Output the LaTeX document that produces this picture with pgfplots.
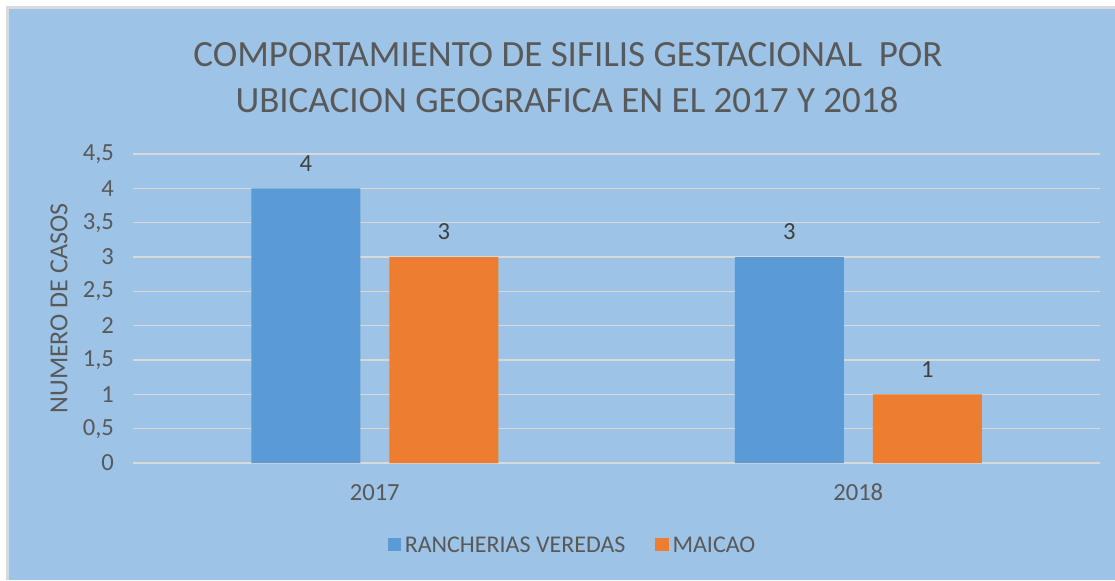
\documentclass[border=0pt]{standalone}
\usepackage{pgfplots}
\pgfplotsset{compat=1.18}
\usepackage{fontspec}
\setmainfont{Carlito}
\definecolor{bg}{HTML}{9DC3E6}
\definecolor{bblue}{HTML}{5B9BD5}
\definecolor{borange}{HTML}{ED7D31}
\definecolor{txt}{HTML}{595959}
\definecolor{lbl}{HTML}{404040}
\definecolor{gridc}{HTML}{D9D9D9}
\begin{document}
\begin{tikzpicture}[x=0.5pt,y=0.5pt]
\useasboundingbox (0,0) rectangle (1115,580);
\fill[white] (0,0) rectangle (1115,580);
\fill[bg] (7,0) rectangle (1115,572);
\draw[gridc,line width=1.5pt] (7,0) -- (7,572) -- (1115,572);
\node[text=txt,font=\fontsize{18.5}{22}\selectfont] at (568,525) {COMPORTAMIENTO DE SIFILIS GESTACIONAL\ \ POR};
\node[text=txt,font=\fontsize{18.5}{22}\selectfont] at (567,480) {UBICACION GEOGRAFICA EN EL 2017 Y 2018};
\begin{axis}[
  at={(66.5pt,58.5pt)}, anchor=south west,
  scale only axis, width=483.5pt, height=154.5pt,
  xmin=-0.5, xmax=1.5, ymin=0, ymax=4.5,
  ytick={0,0.5,1,1.5,2,2.5,3,3.5,4,4.5},
  xtick={0,1}, xticklabels={2017,2018},
  /pgf/number format/assume math mode=true,
  /pgf/number format/use comma,
  yticklabel style={/pgf/number format/fixed},
  major tick length=0pt,
  separate axis lines,
  x axis line style={draw=gridc, line width=0.8pt},
  y axis line style={draw=none},
  axis x line*=bottom,
  axis y line*=left,
  ymajorgrids, grid style={gridc, line width=0.8pt},
  ticklabel style={text=txt, font=\fontsize{12.3}{14}\selectfont},
  yticklabel style={xshift=-6pt},
  xticklabel style={yshift=-7pt},
  ylabel={NUMERO DE CASOS},
  ylabel style={text=txt, font=\fontsize{13}{15}\selectfont, at={(-37pt,0.5)}, anchor=center},
  ybar=14.5pt, bar width=54.5pt,
  nodes near coords,
  nodes near coords style={text=lbl, font=\fontsize{12.3}{14}\selectfont, yshift=5pt},
  legend style={at={([xshift=-21.5pt]0.5,-41.5pt)}, anchor=center, draw=none, fill=none, legend columns=2,
    font=\fontsize{12}{14}\selectfont, text=txt,
    /tikz/every even column/.append style={column sep=13pt},
    nodes={inner xsep=2pt}},
  legend image code/.code={\fill[#1] (0cm,-0.09cm) rectangle (0.23cm,0.14cm);},
]
\addplot[fill=bblue, draw=none] coordinates {(0,4) (1,3)};
\addplot[fill=borange, draw=none] coordinates {(0,3) (1,1)};
\legend{RANCHERIAS VEREDAS, MAICAO}
\end{axis}
\end{tikzpicture}
\end{document}
